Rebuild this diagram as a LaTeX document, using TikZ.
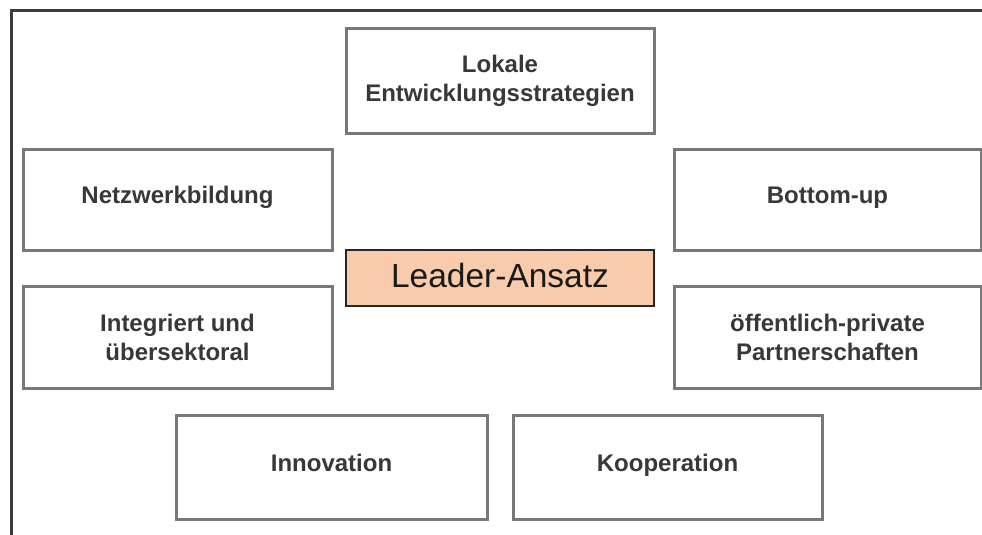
\documentclass[tikz,border=0pt]{standalone}
\usepackage{fontspec}
\setmainfont{Liberation Sans}
\definecolor{framegray}{HTML}{3C3C3C}
\definecolor{boxgray}{HTML}{787878}
\definecolor{textgray}{HTML}{383838}
\definecolor{leaderfill}{HTML}{F8CBAD}
\tikzset{
  topic/.style={draw=boxgray, line width=3pt, fill=white, inner sep=0pt,
    align=center, text=textgray, font=\fontsize{24}{29}\selectfont\bfseries},
  oneline/.style={topic, text height=17pt, text depth=9pt},
  core/.style={draw=black!85, line width=1.5pt, fill=leaderfill, inner sep=0pt,
    text=black!90, text height=25pt, text depth=7pt,
    font=\fontsize{33.5}{40}\selectfont},
}
\begin{document}
\begin{tikzpicture}[x=1pt, y=-1pt]
  \useasboundingbox (0,0) rectangle (982,535);
  % outer frame, open to the right and bottom
  \coordinate (fbl) at (11,540);
  \coordinate (ftl) at (11,11);
  \coordinate (ftr) at (990,11);
  \draw[framegray, line width=3pt] (fbl) -- (ftl) -- (ftr);
  % topic boxes
  \node[topic, minimum width=308pt, minimum height=104pt] (lokal) at (500,81)
    {Lokale\\Entwicklungsstrategien};
  \node[oneline, minimum width=309pt, minimum height=101pt] (netz) at (177.5,199.5)
    {Netzwerkbildung};
  \node[oneline, minimum width=307pt, minimum height=101pt] (bottom) at (827.5,199.5)
    {Bottom-up};
  \node[topic, minimum width=309pt, minimum height=102pt] (integ) at (177.5,337)
    {Integriert und\\übersektoral};
  \node[topic, minimum width=307pt, minimum height=102pt] (ppp) at (827.5,337)
    {öffentlich-private\\Partnerschaften};
  \node[oneline, minimum width=311pt, minimum height=104pt] (innov) at (331.5,467.5)
    {Innovation};
  \node[oneline, minimum width=309pt, minimum height=104pt] (koop) at (667.5,467.5)
    {Kooperation};
  % central concept
  \node[core, minimum width=308pt, minimum height=56pt] (leader) at (500,278)
    {Leader-Ansatz};
\end{tikzpicture}
\end{document}
